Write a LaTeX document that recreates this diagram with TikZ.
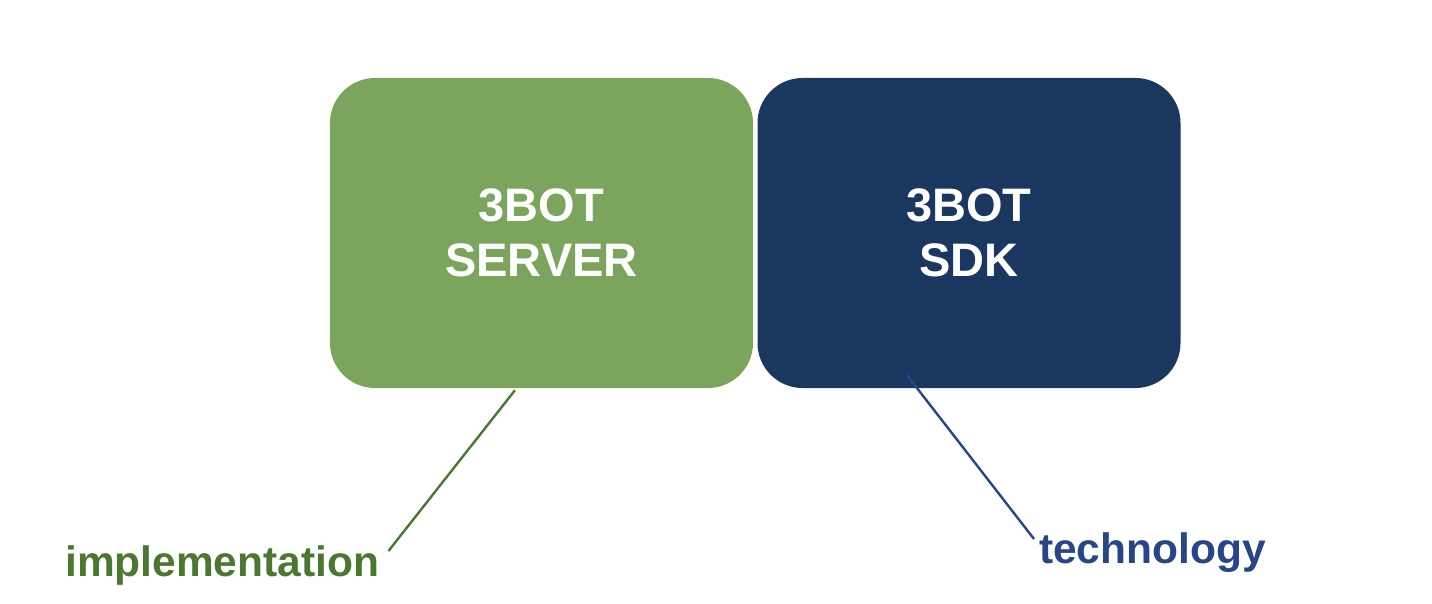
\documentclass[tikz,border=0pt]{standalone}
\usepackage{fontspec}
\setmainfont{Liberation Sans}
\usepackage{tikz}
\usetikzlibrary{shapes.geometric,arrows}
\definecolor{srvgreen}{HTML}{7BA55C}
\definecolor{sdkblue}{HTML}{1A3760}
\definecolor{impgreen}{HTML}{4B7830}
\definecolor{techblue}{HTML}{27468A}
\tikzstyle{box} = [ rectangle, rounded corners = 45pt, minimum width = 423pt, %
                    minimum height = 310pt, text centered, align = center, %
                    text = white, inner sep = 0pt, %
                    font = \bfseries\fontsize{47}{55}\selectfont ]
\tikzstyle{tag} = [ inner sep = 0pt, anchor = base west, %
                    font = \bfseries\fontsize{42.5}{50}\selectfont ]
\tikzstyle{line} = [line width = 2.4pt]

\begin{document}
\begin{tikzpicture}[x=1pt, y=-1pt, node distance = 427.5pt]
      \useasboundingbox (0,0) rectangle (1432,604);
      % Boxes
      \node (server) [box, fill = srvgreen] at (541.5,233) {3BOT\\SERVER};
      \node (sdk) [box, fill = sdkblue, right of=server] {3BOT\\SDK};
      % Labels
      \node (impl) [tag, text = impgreen] at (65,576) {implementation};
      \node (tech) [tag, text = techblue] at (1039,563) {technology};
      % Lines
      \draw [line, draw = impgreen] ([xshift=-26.5pt,yshift=-2pt]server.south) %
        -- ([xshift=9pt,yshift=25pt]impl.base east);
      \draw [line, draw = techblue] ([xshift=-62pt,yshift=13pt]sdk.south) %
        -- ([xshift=-5pt,yshift=24pt]tech.base west);
    \end{tikzpicture}
\end{document}
